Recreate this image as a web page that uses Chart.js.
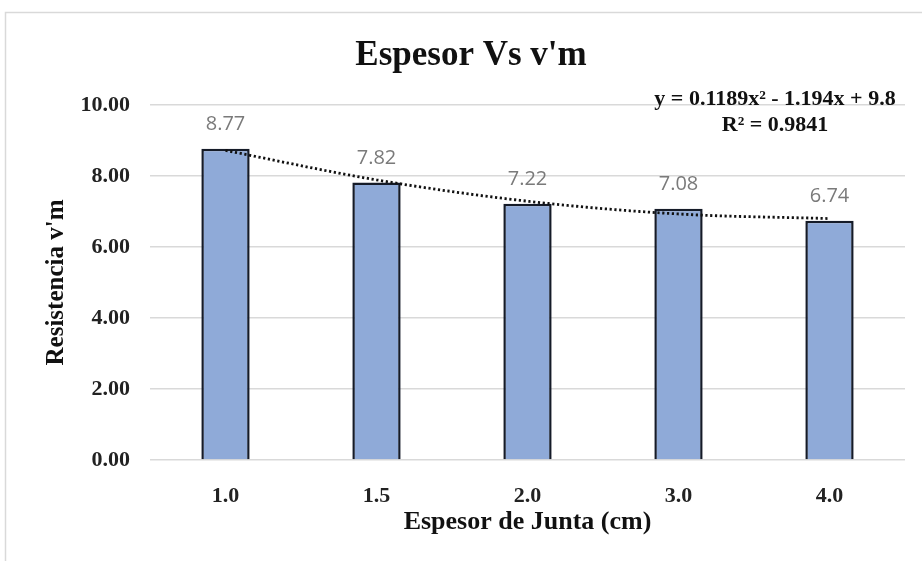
<!DOCTYPE html>
<html>
<head>
<meta charset="utf-8">
<script src="https://cdn.jsdelivr.net/npm/chart.js@4"></script>
<style>
  html, body { margin: 0; padding: 0; background: #fff; }
  #wrap { width: 922px; height: 561px; position: relative; }
</style>
</head>
<body>
<div id="wrap"><canvas id="chart"></canvas></div>
<script>
/* ===== DATOS ===== */
const CATEGORIES = ['1.0', '1.5', '2.0', '3.0', '4.0'];
const RESISTENCIA = [8.77, 7.82, 7.22, 7.08, 6.74];
const TENDENCIA = [8.72, 7.89, 7.29, 6.93, 6.80];
const Y_TICKS = [0, 2, 4, 6, 8, 10];
const TITULO = "Espesor Vs v'm";
const ECUACION = ['y = 0.1189x² - 1.194x + 9.8', 'R² = 0.9841'];

const SERIF = "'Liberation Serif', 'Times New Roman', serif";

// Plugin: marco, título y ecuación de la tendencia
const decor = {
  id: 'decor',
  beforeDraw(chart) {
    const { ctx } = chart;
    ctx.save();
    ctx.strokeStyle = '#d9d9d9';
    ctx.lineWidth = 1.5;
    ctx.beginPath();
    ctx.moveTo(5.5, 561);
    ctx.lineTo(5.5, 12.5);
    ctx.lineTo(922, 12.5);
    ctx.stroke();
    ctx.restore();
  },
  afterDraw(chart) {
    const { ctx } = chart;
    ctx.save();
    ctx.fillStyle = '#111';
    ctx.textAlign = 'center';
    ctx.textBaseline = 'middle';
    ctx.font = 'bold 35px ' + SERIF;
    ctx.fillText(TITULO, 471, 56);
    ctx.font = 'bold 22px ' + SERIF;
    ctx.fillText(ECUACION[0], 775, 99);
    ctx.fillText(ECUACION[1], 775, 125);
    ctx.restore();
  }
};

// Plugin: valor encima de cada barra
const barValueLabels = {
  id: 'barValueLabels',
  afterDatasetsDraw(chart) {
    const { ctx } = chart;
    const meta = chart.getDatasetMeta(0);
    const ds = chart.data.datasets[0];
    meta.data.forEach((el, i) => {
      ctx.save();
      ctx.font = '20px "Open Sans", sans-serif';
      ctx.fillStyle = '#7a7a7a';
      ctx.textAlign = 'center';
      ctx.textBaseline = 'middle';
      ctx.fillText(ds.data[i].toFixed(2), el.x, el.y - 24);
      ctx.restore();
    });
  }
};

new Chart(document.getElementById('chart'), {
  data: {
    labels: CATEGORIES,
    datasets: [
      {
        type: 'bar',
        label: 'Resistencia',
        data: RESISTENCIA,
        backgroundColor: '#8FAAD8',
        borderColor: '#151b28',
        borderWidth: 2.5,
        barPercentage: 0.32,
        categoryPercentage: 1,
        order: 2
      },
      {
        type: 'line',
        label: 'Tendencia',
        data: TENDENCIA,
        borderColor: '#111',
        borderWidth: 2.8,
        borderDash: [2.2, 2.6],
        borderCapStyle: 'butt',
        cubicInterpolationMode: 'monotone',
        pointRadius: 0,
        fill: false,
        order: 1
      }
    ]
  },
  options: {
    responsive: true, maintainAspectRatio: false,
    animation: false,
    layout: { padding: { top: 105, right: 17, left: 0, bottom: 0 } },
    plugins: { legend: { display: false }, tooltip: { enabled: false } },
    scales: {
      x: {
        offset: true,
        grid: { display: false },
        border: { display: false },
        ticks: { color: '#222', padding: 15, font: { family: SERIF, size: 22, weight: 'bold' } },
        title: {
          display: true, text: 'Espesor de Junta (cm)', color: '#111',
          padding: { top: 0, bottom: 23 },
          font: { family: SERIF, size: 26, weight: 'bold' }
        },
        afterFit(s) { s.height = 101; }
      },
      y: {
        min: 0, max: 10,
        afterBuildTicks(s) { s.ticks = Y_TICKS.map(v => ({ value: v })); },
        grid: { color: '#d9d9d9', lineWidth: 1.5, drawTicks: false },
        border: { display: false },
        ticks: {
          color: '#222', padding: 20,
          font: { family: SERIF, size: 22, weight: 'bold' },
          callback: v => Number(v).toFixed(2)
        },
        title: {
          display: true, text: "Resistencia v'm", color: '#111',
          padding: { top: 42, bottom: 0 },
          font: { family: SERIF, size: 25, weight: 'bold' }
        },
        afterFit(s) { s.width = 150; }
      }
    }
  },
  plugins: [decor, barValueLabels]
});
</script>
</body>
</html>
